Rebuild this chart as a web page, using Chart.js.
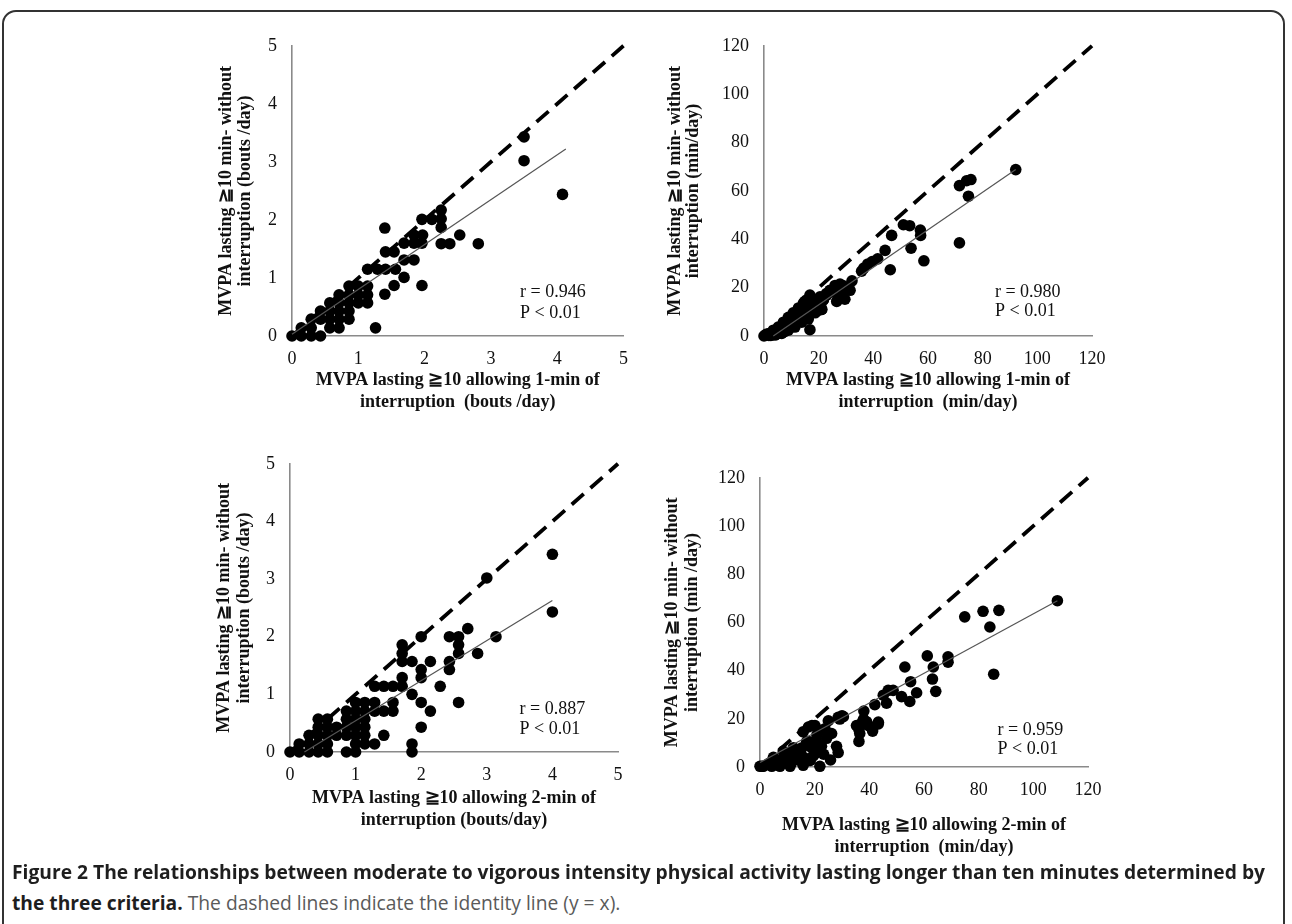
<!DOCTYPE html>
<html>
<head>
<meta charset="utf-8">
<script src="https://cdn.jsdelivr.net/npm/chart.js@4.4.0/dist/chart.umd.min.js"></script>
<style>
  html,body{margin:0;padding:0;background:#fff;}
  body{width:1292px;height:924px;position:relative;overflow:hidden;}
  #frame{position:absolute;left:2px;top:10px;width:1283px;height:960px;border:2px solid #333;border-radius:14px;box-sizing:border-box;}
  canvas{position:absolute;}
  .cap{position:absolute;left:12px;white-space:nowrap;font-family:"Open Sans","Liberation Sans",sans-serif;font-size:20px;line-height:31px;transform-origin:0 50%;color:#5a5a5a;}
  .cap b{color:#1e1e1e;font-weight:700;}
</style>
</head>
<body>
<div id="frame"></div>
<canvas id="c1" width="450" height="400" style="left:190px;top:20px"></canvas>
<canvas id="c2" width="500" height="400" style="left:640px;top:20px"></canvas>
<canvas id="c3" width="450" height="400" style="left:190px;top:438px"></canvas>
<canvas id="c4" width="500" height="420" style="left:640px;top:452px"></canvas>
<div class="cap" id="cap1" style="top:856px"><b>Figure 2 The relationships between moderate to vigorous intensity physical activity lasting longer than ten minutes determined by</b></div>
<div class="cap" id="cap2" style="top:887px"><b>the three criteria.</b> The dashed lines indicate the identity line (y = x).</div>
<script>
// ---------- tick labels ----------
const boutTicks = [0, 1, 2, 3, 4, 5];
const minTicks = [0, 20, 40, 60, 80, 100, 120];

// ---------- Panel 1: 1-min interruption vs none (bouts/day) ----------
const p1X = [0,0.14,0.29,0.43, 0.14,0.29,0.57,0.71, 0.29,0.43,0.57,0.71,0.86, 0.43,0.57,0.71,0.86,
  0.57,0.71,0.86,1.0,1.14, 0.71,0.86,1.0,1.14, 0.86,1.0,1.14,
  3.50,3.50,4.08,1.40,2.25,2.25,1.96,2.11,2.25,2.53,2.81,2.25,2.38,1.69,1.84,1.96,1.84,1.97,
  1.41,1.54,1.69,1.84,1.14,1.29,1.41,1.56,1.69,1.54,1.40,1.96,1.26];
const p1Y = [0,0,0,0, 0.14,0.14,0.14,0.14, 0.29,0.29,0.29,0.29,0.29, 0.43,0.43,0.43,0.43,
  0.57,0.57,0.57,0.57,0.57, 0.71,0.71,0.71,0.71, 0.86,0.86,0.86,
  3.43,3.02,2.44,1.86,2.17,2.02,2.01,2.01,1.87,1.74,1.59,1.59,1.59,1.60,1.60,1.60,1.74,1.74,
  1.45,1.45,1.31,1.31,1.15,1.15,1.15,1.15,1.01,0.87,0.72,0.87,0.14];
const fit1X = [0, 4.13];
const fit1Y = [0.03, 3.22];

// ---------- Panel 2: 1-min interruption vs none (min/day) ----------
const p2X = [92.1,71.5,74.1,75.7,74.8,71.5,51.0,53.3,46.7,57.2,57.3,53.8,58.5,46.2,44.3,41.6,39.6,38.0,36.5,35.7,
  32.2,28.8,26.6,24.1,22.9,21.7,27.8,29.6,16.8,15.6,14.4,16.8,19.3,21.1,
  26.0,27.8,29.6,31.5,28.4,26.6,24.8,22.9,21.7,20.5,18.7,17.4,16.2,15.0,13.8,12.0,10.1,8.3,6.5,4.6,2.8,1.0,
  15.0,12.6,10.7,8.9,7.1,5.2,3.4,1.6,0.4, 11.3,8.9,6.5,4.0,13.8,16.2,18.7,21.1,
  17.4,19.9,12.6,10.1,7.7,5.9,2.2,4.0, 0,1.8,3.0,5.0,6.8,9.5,11.8,14.2,2.5,7.5];
const p2Y = [68.8,62.2,64.2,64.7,57.8,38.5,46.0,45.6,41.6,43.8,41.6,36.3,31.1,27.4,35.4,31.9,30.8,29.8,28.1,26.8,
  22.8,20.9,20.2,18.9,17.6,14.9,15.6,15.2,16.9,14.9,13.6,2.6,10.3,11.0,
  20.9,21.5,19.5,18.9,16.9,14.3,18.2,16.9,14.9,16.2,13.6,14.9,12.3,10.3,8.3,7.7,5.7,4.4,3.0,2.4,1.3,0.8,
  14.3,11.6,9.6,7.7,5.7,3.7,2.4,0.8,0.4, 3.7,2.4,1.1,0.4,5.7,7.0,9.6,11.0,
  11.6,12.9,7.0,5.0,3.4,2.1,1.1,1.6, 0,0.2,0.6,1.0,2.6,4.0,6.0,9.0,0.2,1.8];
const fit2X = [3.4, 92.1];
const fit2Y = [0, 68.8];

// ---------- Panel 3: 2-min interruption vs none (bouts/day) ----------
const p3X = [0,0.14,0.29,0.43,0.57,0.86,1.0,1.86,
  0.14,0.29,0.43,0.57,1.0,1.14,1.29,1.86,
  0.29,0.43,0.57,0.71,0.86,1.0,1.14,1.43,
  0.43,0.57,0.71,0.86,1.0,1.14,2.0,
  0.43,0.57,0.86,1.0,1.14,
  0.86,1.0,1.14,1.29,1.43,1.57,2.14,
  1.0,1.14,1.29,1.57,2.0,2.57,
  1.86, 1.29,1.43,1.57,1.71,2.29, 1.71,2.0, 2.0,2.43,
  1.71,1.86,2.14,2.43, 1.71,2.57,2.86, 1.71,2.57, 2.0,2.43,2.57,3.14, 2.71,
  4.0,3.0,4.0];
const p3Y = [0,0,0,0,0,0,0,0,
  0.14,0.14,0.14,0.14,0.14,0.14,0.14,0.14,
  0.29,0.29,0.29,0.29,0.29,0.29,0.29,0.29,
  0.43,0.43,0.43,0.43,0.43,0.43,0.43,
  0.57,0.57,0.57,0.57,0.57,
  0.71,0.71,0.71,0.71,0.71,0.71,0.71,
  0.86,0.86,0.86,0.86,0.86,0.86,
  1.0, 1.14,1.14,1.14,1.14,1.14, 1.29,1.29, 1.43,1.43,
  1.57,1.57,1.57,1.57, 1.71,1.71,1.71, 1.86,1.86, 2.0,2.0,2.0,2.0, 2.14,
  2.43,3.02,3.43];
const fit3X = [0.22, 4.0];
const fit3Y = [0, 2.63];

// ---------- Panel 4: 2-min interruption vs none (min/day) ----------
const p4X = [108.8,74.9,81.6,87.4,84.1,85.5,61.2,68.8,68.8,63.4,53.0,55.1,63.1,64.3,57.3,54.8,51.8,48.7,46.9,45.1,
  46.3,42.0,38.0,39.0,37.5,43.3,41.2,36.2,36.5,36.2,30.5,29.2,25.0,28.0,28.6,25.8,21.9,
  15.8,17.7,20.1,21.9,23.8,28.6,26.2,24.4,20.7,22.5,18.9,17.1,14.6,12.2,13.4,11.0,8.5,7.9,6.1,4.9,3.0,1.2,0,
  4.3,7.3,11.0,15.8,17.7,19.5,20.7,9.7,14.6,35.3,43.3,
  19.0,20.8,17.8,15.4,14.1,11.1,12.9,8.7,4.4,0.7,16.0,18.4,11.7,7.4,21.4,23.3,37.9,39.7,30.0];
const p4Y = [69.0,62.3,64.6,65.0,58.1,38.5,46.1,45.7,43.5,41.5,41.5,35.4,36.5,31.4,30.8,27.2,29.2,31.8,31.8,29.8,
  26.5,25.9,23.2,18.8,18.8,17.9,14.9,15.6,13.9,10.6,20.9,19.9,19.2,8.6,6.0,2.9,0.3,
  14.6,16.6,17.2,15.2,15.9,20.6,13.9,11.9,10.6,8.6,8.0,10.6,6.6,8.0,4.6,5.3,6.6,3.3,2.0,4.0,1.3,0.3,0.3,
  0.3,0.3,0.3,0.7,2.7,4.6,6.0,2.7,2.7,17.2,18.6,
  17.2,13.3,10.6,8.0,6.0,4.6,7.3,3.3,2.0,0.3,4.0,2.7,2.0,1.3,9.3,5.3,19.9,17.2,21.2];
const fit4X = [0, 108.8];
const fit4Y = [1.9, 69.0];

// identity lines
const idBouts = [0, 5];
const idMin = [0, 120];

// ---------- drawing ----------
const annotPlugin = {
  id: 'annot',
  afterDatasetsDraw(chart, args, opts) {
    const {ctx, scales} = chart;
    ctx.save();
    ctx.font = '18px "Liberation Serif", "Times New Roman", serif';
    ctx.fillStyle = '#111';
    ctx.textBaseline = 'middle';
    ctx.textAlign = 'left';
    (opts.lines || []).forEach(l => {
      ctx.fillText(l.text, scales.x.getPixelForValue(l.x), scales.y.getPixelForValue(l.y));
    });
    ctx.restore();
  }
};

function pts(xs, ys) { return xs.map((v, i) => ({x: v, y: ys[i]})); }

function makeChart(cfg) {
  const serif = '"Liberation Serif", "Times New Roman", serif';
  const ticks = cfg.ticks;
  return new Chart(document.getElementById(cfg.id), {
    type: 'scatter',
    data: {
      datasets: [
        {type: 'line', data: pts(cfg.fitX, cfg.fitY), borderColor: '#555', borderWidth: 1.2,
         pointRadius: 0, showLine: true, clip: false, fill: false},
        {data: pts(cfg.xs, cfg.ys), backgroundColor: '#000', borderColor: '#000', pointRadius: 5.8,
         pointBorderWidth: 0, clip: false},
        {type: 'line', data: pts(cfg.idX, cfg.idX), borderColor: '#000', borderWidth: 3.8,
         borderDash: [16, 9], pointRadius: 0, showLine: true, clip: false, fill: false}
      ]
    },
    options: {
      responsive: false,
      animation: false,
      events: [],
      layout: {padding: {top: cfg.padTop, right: cfg.padRight, left: 0, bottom: 0}},
      plugins: {
        legend: {display: false},
        tooltip: {enabled: false},
        annot: {lines: cfg.annot}
      },
      scales: {
        x: {
          type: 'linear', min: ticks[0], max: ticks[ticks.length - 1],
          afterBuildTicks: s => { s.ticks = ticks.map(v => ({value: v})); },
          afterFit: s => { s.height = cfg.xH; },
          grid: {display: false, drawTicks: false},
          border: {display: true, color: '#8a8a8a', width: 1.6},
          ticks: {padding: 12, color: '#111', font: {family: serif, size: 18}, maxRotation: 0, autoSkip: false},
          title: {display: true, text: cfg.xTitle, color: '#111',
                  font: {family: serif, size: 18, weight: 'bold', lineHeight: 22 / 18},
                  padding: {top: 0, bottom: cfg.xTitlePad}}
        },
        y: {
          type: 'linear', min: ticks[0], max: ticks[ticks.length - 1],
          afterBuildTicks: s => { s.ticks = ticks.map(v => ({value: v})); },
          afterFit: s => { s.width = cfg.yW; },
          grid: {display: false, drawTicks: false},
          border: {display: true, color: '#8a8a8a', width: 1.6},
          ticks: {padding: 15, color: '#111', font: {family: serif, size: 18}, autoSkip: false},
          title: {display: true, text: cfg.yTitle, color: '#111',
                  font: {family: serif, size: 18, weight: 'bold', lineHeight: cfg.yLH / 18},
                  padding: {top: cfg.yTitlePad, bottom: 0}}
        }
      }
    },
    plugins: [annotPlugin]
  });
}

makeChart({id: 'c1', xs: p1X, ys: p1Y, fitX: fit1X, fitY: fit1Y, idX: idBouts, ticks: boutTicks,
  padTop: 13, padRight: 14, yW: 102, xH: 84, xTitlePad: 7, yTitlePad: 26.5, yLH: 19,
  xTitle: ['MVPA lasting \u226710 allowing 1-min of', 'interruption  (bouts /day)'],
  yTitle: ['MVPA lasting \u226710 min- without', 'interruption (bouts /day)'],
  annot: [{text: 'r = 0.946', x: 3.44, y: 0.75}, {text: 'P < 0.01', x: 3.44, y: 0.40}]});

makeChart({id: 'c2', xs: p2X, ys: p2Y, fitX: fit2X, fitY: fit2Y, idX: idMin, ticks: minTicks,
  padTop: 13, padRight: 48, yW: 124, xH: 84, xTitlePad: 7, yTitlePad: 26, yLH: 18.5,
  xTitle: ['MVPA lasting \u226710 allowing 1-min of', 'interruption  (min/day)'],
  yTitle: ['MVPA lasting \u226710 min- without', 'interruption (min/day)'],
  annot: [{text: 'r = 0.980', x: 84.5, y: 18.2}, {text: 'P < 0.01', x: 84.5, y: 10.3}]});

makeChart({id: 'c3', xs: p3X, ys: p3Y, fitX: fit3X, fitY: fit3Y, idX: idBouts, ticks: boutTicks,
  padTop: 12, padRight: 22, yW: 100, xH: 86, xTitlePad: 7, yTitlePad: 24, yLH: 20,
  xTitle: ['MVPA lasting \u226710 allowing 2-min of', 'interruption (bouts/day)'],
  yTitle: ['MVPA lasting \u226710 min- without', 'interruption (bouts /day)'],
  annot: [{text: 'r = 0.887', x: 3.50, y: 0.745}, {text: 'P < 0.01', x: 3.50, y: 0.40}]});

makeChart({id: 'c4', xs: p4X, ys: p4Y, fitX: fit4X, fitY: fit4Y, idX: idMin, ticks: minTicks,
  padTop: 13, padRight: 52, yW: 120, xH: 105, xTitlePad: 14, yTitlePad: 22, yLH: 20.5,
  xTitle: ['MVPA lasting \u226710 allowing 2-min of', 'interruption  (min/day)'],
  yTitle: ['MVPA lasting \u226710 min- without', 'interruption (min /day)'],
  annot: [{text: 'r = 0.959', x: 86.9, y: 15.3}, {text: 'P < 0.01', x: 86.9, y: 7.3}]});

// caption: fit first line to the reference width, apply same squeeze to line 2
(function () {
  const c1 = document.getElementById('cap1');
  const c2 = document.getElementById('cap2');
  const w = c1.getBoundingClientRect().width;
  const k = 1253 / w;
  c1.style.transform = 'scaleX(' + k + ')';
  c2.style.transform = 'scaleX(' + k + ')';
})();
</script>
</body>
</html>
